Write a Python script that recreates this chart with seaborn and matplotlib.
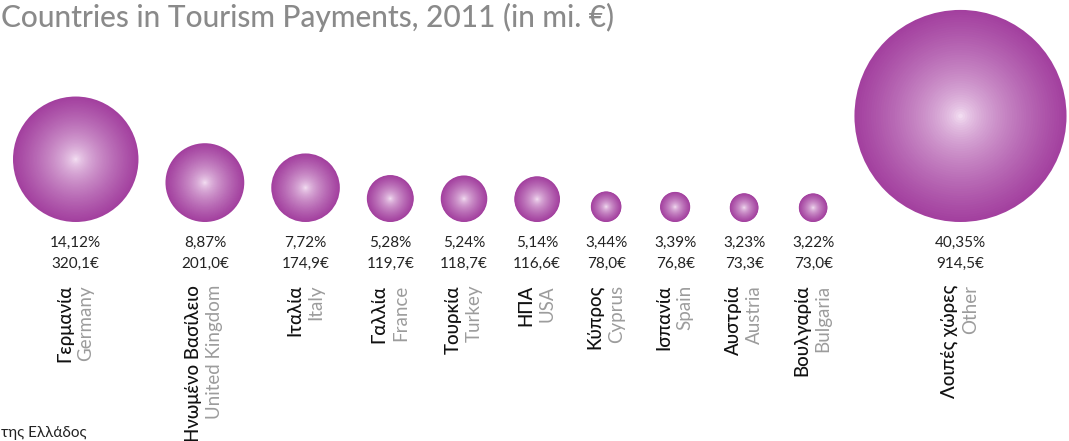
import numpy as np
import pandas as pd
import matplotlib
matplotlib.use("Agg")
import matplotlib.pyplot as plt
import seaborn as sns
from matplotlib.colors import to_rgb

names_gr = ["Γερμανία", "Ηνωμένο Βασίλειο", "Ιταλία", "Γαλλία", "Τουρκία", "ΗΠΑ",
            "Κύπρος", "Ισπανία", "Αυστρία", "Βουλγαρία", "Λοιπές χώρες"]
names_en = ["Germany", "United Kingdom", "Italy", "France", "Turkey", "USA",
            "Cyprus", "Spain", "Austria", "Bulgaria", "Other"]
payments = [320.1, 201.0, 174.9, 119.7, 118.7, 116.6, 78.0, 76.8, 73.3, 73.0, 914.5]
shares = [14.12, 8.87, 7.72, 5.28, 5.24, 5.14, 3.44, 3.39, 3.23, 3.22, 40.35]

def fmt(v, d):
    return f"{v:.{d}f}".replace(".", ",")

# radius in px: linear in value, area-scaled above the biggest country
knee = 320.1
def radius(v):
    return 0.196 * v if v <= knee else 0.196 * knee * np.sqrt(v / knee)

df = pd.DataFrame({"gr": names_gr, "en": names_en, "value": payments, "share": shares})
df["r"] = df["value"].apply(radius)
# circles left to right, 27px apart, at least 69px between centres
xs = [13 + df["r"][0]]
for i in range(1, len(df)):
    xs.append(xs[-1] + max(df["r"][i - 1] + df["r"][i] + 27, 69))
df["x"] = xs
base = 222
df["y"] = base - df["r"]

sns.set_theme(style="white")
plt.rcParams["font.family"] = ["Lato", "DejaVu Sans"]

dpi = 100
fig = plt.figure(figsize=(10.69, 4.41), dpi=dpi)
ax = fig.add_axes([0, 0, 1, 1])
ax.set_xlim(0, 1069)
ax.set_ylim(441, 0)
ax.axis("off")

# radial gradient: stacked concentric discs from edge colour to highlight
edge = np.array(to_rgb("#a3409f"))
centre = np.array(to_rgb("#fbeefa"))
n_layers = 45
diam_pt = 2 * df["r"] * 72 / dpi
for k in range(n_layers):
    f = 1 - k / n_layers
    c = centre + (edge - centre) * f ** 0.6
    sns.scatterplot(x=df["x"], y=df["y"], s=(diam_pt * f) ** 2, color=c,
                    linewidth=0, legend=False, ax=ax)

for _, row in df.iterrows():
    ax.text(row["x"], 243, fmt(row["share"], 2) + "%", ha="center", va="center",
            fontsize=11, color="#222222")
    ax.text(row["x"], 264, fmt(row["value"], 1) + "€", ha="center", va="center",
            fontsize=11, color="#222222")
    ax.text(row["x"] - 11, 285, row["gr"], rotation=90, ha="center", va="top",
            fontsize=13.5, color="#111111", fontweight=500)
    ax.text(row["x"] + 10, 285, row["en"], rotation=90, ha="center", va="top",
            fontsize=13.5, color="#9c9c9c")

ax.text(1, 17, "Countries in Tourism Payments, 2011 (in mi. €)", ha="left", va="center",
        fontsize=21.5, color="#8a8a8a", fontweight=500)
ax.text(1, 433, "της Ελλάδος", ha="left", va="center", fontsize=11, color="#222222")

fig.savefig("out.png", dpi=dpi, facecolor="white")
